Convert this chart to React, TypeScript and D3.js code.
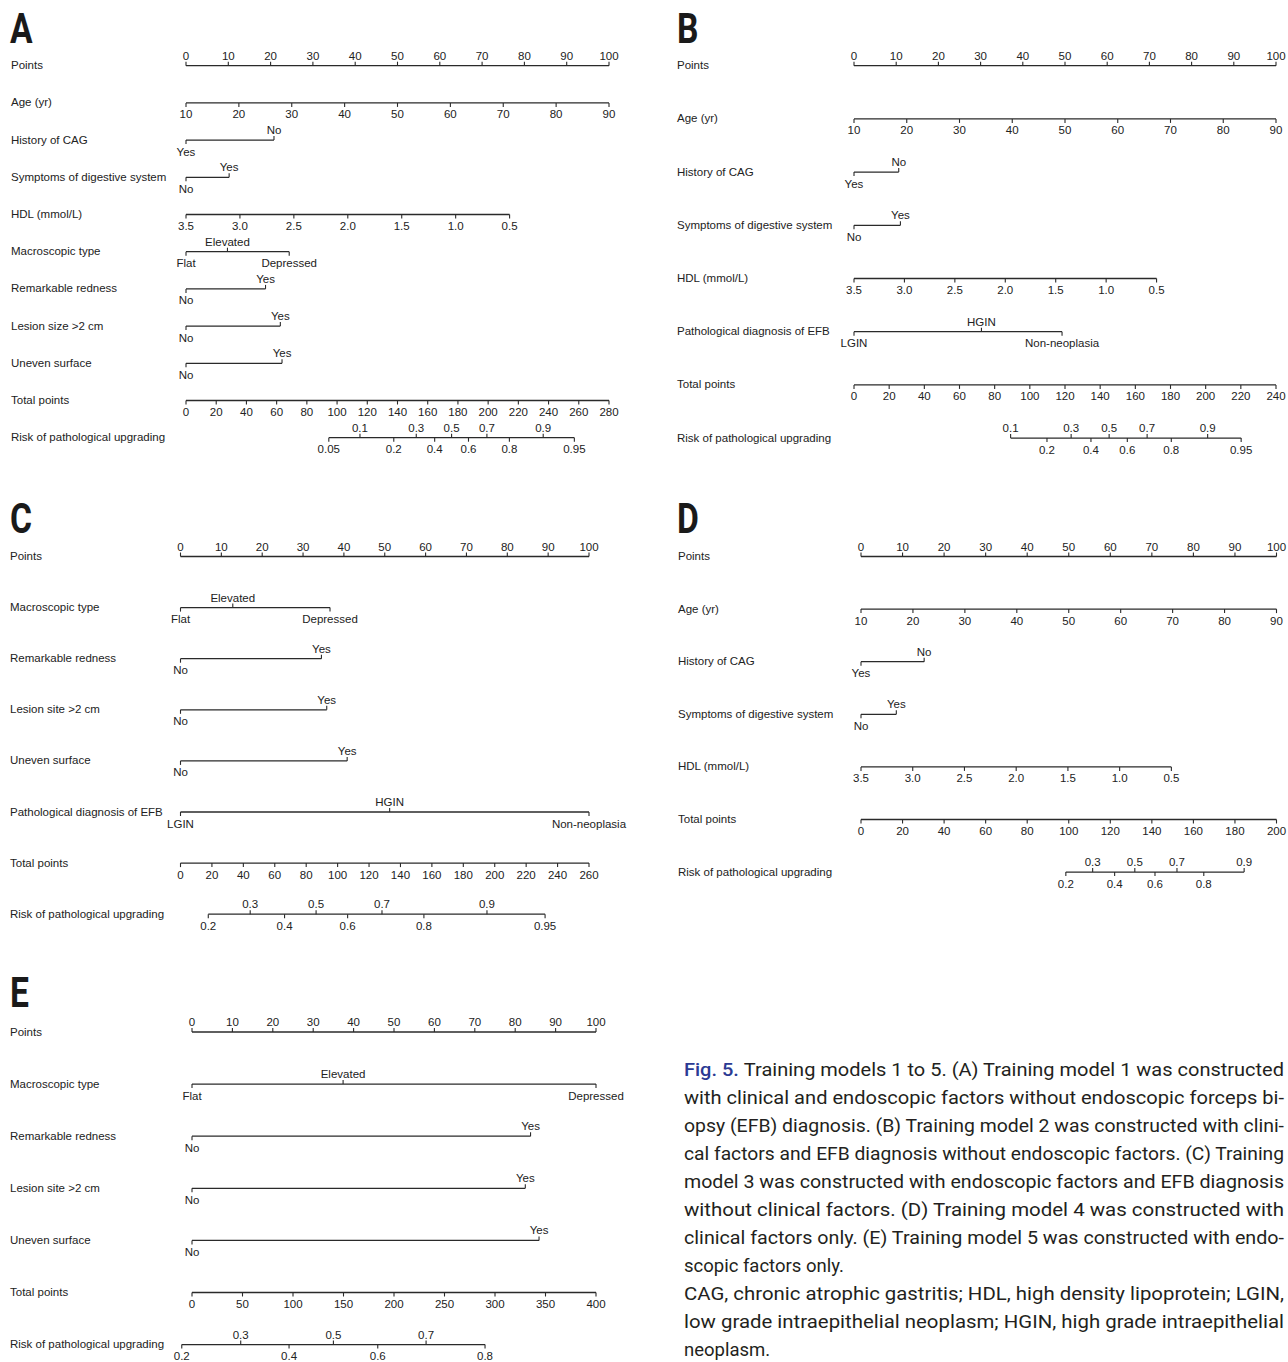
import React from "react";
import * as d3 from "d3";

// ---------- data ----------
const pointsTicks = [0, 10, 20, 30, 40, 50, 60, 70, 80, 90, 100];
const ageTicks = [10, 20, 30, 40, 50, 60, 70, 80, 90];
const hdlTicks = [3.5, 3.0, 2.5, 2.0, 1.5, 1.0, 0.5];
const totalTicksA = [0, 20, 40, 60, 80, 100, 120, 140, 160, 180, 200, 220, 240, 260, 280];
const totalTicksB = [0, 20, 40, 60, 80, 100, 120, 140, 160, 180, 200, 220, 240];
const totalTicksC = [0, 20, 40, 60, 80, 100, 120, 140, 160, 180, 200, 220, 240, 260];
const totalTicksD = [0, 20, 40, 60, 80, 100, 120, 140, 160, 180, 200];
const totalTicksE = [0, 50, 100, 150, 200, 250, 300, 350, 400];

const riskUpperA = [0.1, 0.3, 0.5, 0.7, 0.9];
const riskLowerA = [0.05, 0.2, 0.4, 0.6, 0.8, 0.95];
const riskUpperB = [0.1, 0.3, 0.5, 0.7, 0.9];
const riskLowerB = [0.2, 0.4, 0.6, 0.8, 0.95];
const riskUpperC = [0.3, 0.5, 0.7, 0.9];
const riskLowerC = [0.2, 0.4, 0.6, 0.8, 0.95];
const riskUpperD = [0.3, 0.5, 0.7, 0.9];
const riskLowerD = [0.2, 0.4, 0.6, 0.8];
const riskUpperE = [0.3, 0.5, 0.7];
const riskLowerE = [0.2, 0.4, 0.6, 0.8];

// logistic model: [total points at risk 0.5, total points per logit unit]
const riskModelA = [175.8, 27.6];
const riskModelB = [145.1, 25.5];
const riskModelC = [86.3, 49.5];
const riskModelD = [131.8, 23.95];
const riskModelE = [140.0, 108.3];

// points at the ends of continuous predictors
const agePtsA = [0, 100];
const hdlPtsA = [0, 76.5];
const agePtsB = [0, 100];
const hdlPtsB = [0, 71.7];
const agePtsD = [0, 100];
const hdlPtsD = [0, 74.7];

// categorical predictors: [level, points, label side]
const cagA = [["Yes", 0, "below"], ["No", 20.8, "above"]];
const sympA = [["No", 0, "below"], ["Yes", 10.2, "above"]];
const macroA = [["Flat", 0, "below"], ["Elevated", 9.8, "above"], ["Depressed", 24.4, "below"]];
const rednessA = [["No", 0, "below"], ["Yes", 18.8, "above"]];
const lesionA = [["No", 0, "below"], ["Yes", 22.3, "above"]];
const unevenA = [["No", 0, "below"], ["Yes", 22.7, "above"]];

const cagB = [["Yes", 0, "below"], ["No", 10.6, "above"]];
const sympB = [["No", 0, "below"], ["Yes", 11.0, "above"]];
const pathB = [["LGIN", 0, "below"], ["HGIN", 30.2, "above"], ["Non-neoplasia", 49.3, "below"]];

const macroC = [["Flat", 0, "below"], ["Elevated", 12.8, "above"], ["Depressed", 36.6, "below"]];
const rednessC = [["No", 0, "below"], ["Yes", 34.5, "above"]];
const lesionC = [["No", 0, "below"], ["Yes", 35.8, "above"]];
const unevenC = [["No", 0, "below"], ["Yes", 40.8, "above"]];
const pathC = [["LGIN", 0, "below"], ["HGIN", 51.2, "above"], ["Non-neoplasia", 100, "below"]];

const cagD = [["Yes", 0, "below"], ["No", 15.2, "above"]];
const sympD = [["No", 0, "below"], ["Yes", 8.5, "above"]];

const macroE = [["Flat", 0, "below"], ["Elevated", 37.4, "above"], ["Depressed", 100, "below"]];
const rednessE = [["No", 0, "below"], ["Yes", 83.8, "above"]];
const lesionE = [["No", 0, "below"], ["Yes", 82.5, "above"]];
const unevenE = [["No", 0, "below"], ["Yes", 85.9, "above"]];

const rowsA = [
  { kind: "points", label: "Points" },
  { kind: "cont", label: "Age (yr)", ticks: ageTicks, domain: [10, 90], pts: agePtsA },
  { kind: "cat", label: "History of CAG", levels: cagA },
  { kind: "cat", label: "Symptoms of digestive system", levels: sympA },
  { kind: "cont", label: "HDL (mmol/L)", ticks: hdlTicks, domain: [3.5, 0.5], pts: hdlPtsA, dec: 1 },
  { kind: "cat", label: "Macroscopic type", levels: macroA },
  { kind: "cat", label: "Remarkable redness", levels: rednessA },
  { kind: "cat", label: "Lesion size >2 cm", levels: lesionA },
  { kind: "cat", label: "Uneven surface", levels: unevenA },
  { kind: "total", label: "Total points", ticks: totalTicksA },
  { kind: "risk", label: "Risk of pathological upgrading", upper: riskUpperA, lower: riskLowerA, model: riskModelA },
];
const rowsB = [
  { kind: "points", label: "Points" },
  { kind: "cont", label: "Age (yr)", ticks: ageTicks, domain: [10, 90], pts: agePtsB },
  { kind: "cat", label: "History of CAG", levels: cagB },
  { kind: "cat", label: "Symptoms of digestive system", levels: sympB },
  { kind: "cont", label: "HDL (mmol/L)", ticks: hdlTicks, domain: [3.5, 0.5], pts: hdlPtsB, dec: 1 },
  { kind: "cat", label: "Pathological diagnosis of EFB", levels: pathB },
  { kind: "total", label: "Total points", ticks: totalTicksB },
  { kind: "risk", label: "Risk of pathological upgrading", upper: riskUpperB, lower: riskLowerB, model: riskModelB },
];
const rowsC = [
  { kind: "points", label: "Points" },
  { kind: "cat", label: "Macroscopic type", levels: macroC },
  { kind: "cat", label: "Remarkable redness", levels: rednessC },
  { kind: "cat", label: "Lesion site >2 cm", levels: lesionC },
  { kind: "cat", label: "Uneven surface", levels: unevenC },
  { kind: "cat", label: "Pathological diagnosis of EFB", levels: pathC },
  { kind: "total", label: "Total points", ticks: totalTicksC },
  { kind: "risk", label: "Risk of pathological upgrading", upper: riskUpperC, lower: riskLowerC, model: riskModelC },
];
const rowsD = [
  { kind: "points", label: "Points" },
  { kind: "cont", label: "Age (yr)", ticks: ageTicks, domain: [10, 90], pts: agePtsD },
  { kind: "cat", label: "History of CAG", levels: cagD },
  { kind: "cat", label: "Symptoms of digestive system", levels: sympD },
  { kind: "cont", label: "HDL (mmol/L)", ticks: hdlTicks, domain: [3.5, 0.5], pts: hdlPtsD, dec: 1 },
  { kind: "total", label: "Total points", ticks: totalTicksD },
  { kind: "risk", label: "Risk of pathological upgrading", upper: riskUpperD, lower: riskLowerD, model: riskModelD },
];
const rowsE = [
  { kind: "points", label: "Points" },
  { kind: "cat", label: "Macroscopic type", levels: macroE },
  { kind: "cat", label: "Remarkable redness", levels: rednessE },
  { kind: "cat", label: "Lesion site >2 cm", levels: lesionE },
  { kind: "cat", label: "Uneven surface", levels: unevenE },
  { kind: "total", label: "Total points", ticks: totalTicksE },
  { kind: "risk", label: "Risk of pathological upgrading", upper: riskUpperE, lower: riskLowerE, model: riskModelE },
];

const captionLines = [
  "Training models 1 to 5. (A) Training model 1 was constructed",
  "with clinical and endoscopic factors without endoscopic forceps bi-",
  "opsy (EFB) diagnosis. (B) Training model 2 was constructed with clini-",
  "cal factors and EFB diagnosis without endoscopic factors. (C) Training",
  "model 3 was constructed with endoscopic factors and EFB diagnosis",
  "without clinical factors. (D) Training model 4 was constructed with",
  "clinical factors only. (E) Training model 5 was constructed with endo-",
  "scopic factors only.",
  "CAG, chronic atrophic gastritis; HDL, high density lipoprotein; LGIN,",
  "low grade intraepithelial neoplasm; HGIN, high grade intraepithelial",
  "neoplasm.",
];
const captionJustified = [true, true, true, true, true, true, true, false, true, true, false];

// ---------- layout ----------
const panels = [
  { letter: "A", rows: rowsA, letterX: 10, letterY: 43, labelX: 11, x0: 186, x1: 609, y0: 65.7, dy: 37.2 },
  { letter: "B", rows: rowsB, letterX: 677, letterY: 43, labelX: 677, x0: 854, x1: 1276, y0: 65.7, dy: 53.2 },
  { letter: "C", rows: rowsC, letterX: 10, letterY: 533, labelX: 10, x0: 180.5, x1: 589, y0: 556.5, dy: 51.1 },
  { letter: "D", rows: rowsD, letterX: 677, letterY: 533, labelX: 678, x0: 861, x1: 1276.5, y0: 556.5, dy: 52.6 },
  { letter: "E", rows: rowsE, letterX: 10, letterY: 1007, labelX: 10, x0: 192, x1: 596, y0: 1032, dy: 52.1 },
];

const FONT = "'Liberation Sans', Arial, Helvetica, sans-serif";
const FS = 11.5;
const LINE = "#2a2a2a";
const TEXT = "#222";
const TICK = 4;

type T = { x: number; label: string; side: string };

function Axis({ ticks, y }: { ticks: T[]; y: number }) {
  const xs = ticks.map((t) => t.x);
  const xmin = d3.min(xs) as number;
  const xmax = d3.max(xs) as number;
  return (
    <g>
      <line x1={xmin} x2={xmax} y1={y} y2={y} stroke={LINE} strokeWidth={1.3} />
      {ticks.map((t, i) => (
        <g key={i}>
          <line
            x1={t.x}
            x2={t.x}
            y1={y}
            y2={t.side === "above" ? y - TICK : y + TICK}
            stroke={LINE}
            strokeWidth={1.1}
          />
          <text
            x={t.x}
            y={t.side === "above" ? y - 6 : y + 15.5}
            textAnchor="middle"
            fontFamily={FONT}
            fontSize={FS}
            fill={TEXT}
          >
            {t.label}
          </text>
        </g>
      ))}
    </g>
  );
}

function Panel({ p }: { p: any }) {
  const ptsX = d3.scaleLinear().domain([0, 100]).range([p.x0, p.x1]);
  const totalRow = p.rows.find((r: any) => r.kind === "total");
  const totalMax = d3.max(totalRow.ticks as number[]) as number;
  const totX = d3.scaleLinear().domain([0, totalMax]).range([p.x0, p.x1]);
  const rowY = (i: number) => p.y0 + i * p.dy;

  return (
    <g>
      <text
        transform={`translate(${p.letterX},${p.letterY}) scale(0.8,1)`}
        fontFamily="Roboto, 'Liberation Sans', Arial, sans-serif"
        fontWeight={700}
        fontSize={42}
        fill="#1a1a1a"
      >
        {p.letter}
      </text>
      {p.rows.map((r: any, i: number) => {
        const y = rowY(i);
        let ticks: T[] = [];
        if (r.kind === "points") {
          ticks = pointsTicks.map((v) => ({ x: ptsX(v), label: String(v), side: "above" }));
        } else if (r.kind === "cont") {
          const toPts = d3.scaleLinear().domain(r.domain).range(r.pts);
          ticks = r.ticks.map((v: number) => ({
            x: ptsX(toPts(v)),
            label: r.dec ? v.toFixed(r.dec) : String(v),
            side: "below",
          }));
        } else if (r.kind === "cat") {
          ticks = r.levels.map((l: any) => ({ x: ptsX(l[1]), label: l[0], side: l[2] }));
        } else if (r.kind === "total") {
          ticks = r.ticks.map((v: number) => ({ x: totX(v), label: String(v), side: "below" }));
        } else if (r.kind === "risk") {
          const [tp50, perLogit] = r.model;
          const riskX = (pr: number) => totX(tp50 + perLogit * Math.log(pr / (1 - pr)));
          ticks = [
            ...r.upper.map((v: number) => ({ x: riskX(v), label: String(v), side: "above" })),
            ...r.lower.map((v: number) => ({ x: riskX(v), label: String(v), side: "below" })),
          ];
        }
        return (
          <g key={i}>
            <text x={p.labelX} y={y + 3.5} fontFamily={FONT} fontSize={FS} fill={TEXT}>
              {r.label}
            </text>
            <Axis ticks={ticks} y={y} />
          </g>
        );
      })}
    </g>
  );
}

export default function App() {
  const capX = 684;
  const capY0 = 1076;
  const capDy = 28;
  const capW = 600;
  return (
    <svg
      width={1288}
      height={1362}
      viewBox="0 0 1288 1362"
      style={{ position: "absolute", left: 0, top: 0, display: "block", background: "#fff" }}
    >
      <rect x={0} y={0} width={1288} height={1362} fill="#fff" />
      {panels.map((p) => (
        <Panel key={p.letter} p={p} />
      ))}
      {captionLines.map((line, i) => (
        <text
          key={i}
          x={capX}
          y={capY0 + i * capDy}
          fontFamily="Roboto, 'Open Sans', sans-serif"
          fontSize={18.5}
          fill="#231f20"
          textLength={captionJustified[i] ? capW : undefined}
          lengthAdjust={captionJustified[i] ? "spacingAndGlyphs" : undefined}
        >
          {i === 0 ? (
            <tspan fill="#2b3a93" fontWeight={500}>
              {"Fig. 5. "}
            </tspan>
          ) : null}
          {line}
        </text>
      ))}
    </svg>
  );
}
